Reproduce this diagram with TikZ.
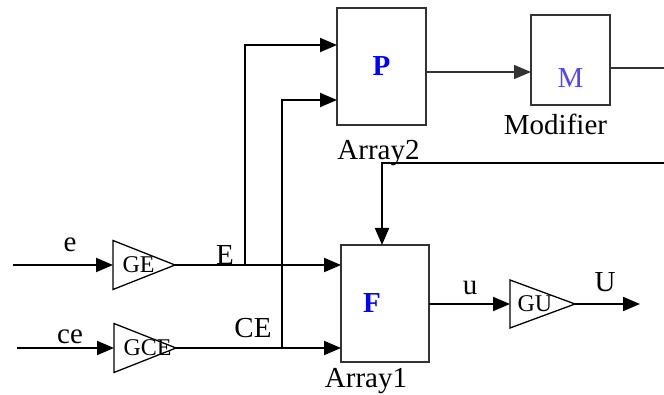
\documentclass[tikz,border=0pt]{standalone}
\usepackage{fontspec}
\setmainfont{Liberation Serif}
\usepackage{tikz}
\usetikzlibrary{arrows.meta, shapes.geometric}
\definecolor{arrblue}{RGB}{0, 0, 255}
\definecolor{modblue}{RGB}{85, 70, 245}
\definecolor{boxgray}{RGB}{51, 51, 51}

\begin{document}
\begin{tikzpicture}[x=1pt, y=-1pt,
    every node/.style={font=\fontsize{29}{33}\selectfont},
    block/.style={draw=boxgray, line width=1.4pt, inner sep=0pt, outer sep=0pt},
    gain/.style={isosceles triangle, isosceles triangle stretches, shape border rotate=0, draw, line width=1.3pt, inner sep=0pt, outer sep=0pt, minimum height=62pt, minimum width=49pt, anchor=west},
    gaintext/.style={font=\fontsize{24}{28}\selectfont, anchor=west, xshift=6pt},
    sig/.style={line width=1.9pt, -{Triangle[length=17pt, width=14pt]}},
    wire/.style={line width=1.5pt, draw=boxgray}
]
\useasboundingbox (0,0) rectangle (664,395);

\node[block, minimum width=89pt, minimum height=117pt, font=\fontsize{29}{33}\selectfont\bfseries, text=arrblue, label={[xshift=-3pt, yshift=-12pt]below:Array2}] (p) at (381.5,66.5) {P};
\node[block, minimum width=79pt, minimum height=90pt, label={[text=modblue, yshift=-18pt]center:M}, label={[xshift=-15pt, yshift=-6pt]below:Modifier}] (m) at (570.5,60) {};
\node[block, minimum width=88pt, minimum height=117pt, label={[text=arrblue, font=\fontsize{29}{33}\selectfont\bfseries, xshift=-13pt]center:F}, label={[xshift=-19pt, yshift=-3pt]below:Array1}] (f) at (385,303.5) {};

\node[gain, label={[gaintext]west:GE}] (ge) at (113,265) {};
\node[gain, label={[gaintext]west:GCE}] (gce) at (114,348) {};
\node[gain, minimum height=65pt, minimum width=48pt, label={[gaintext, xshift=-2pt]west:GU}] (gu) at (510,304) {};

\coordinate (ein) at (13,265);
\coordinate (cein) at (17,348);
\coordinate (je) at (245,265);
\coordinate (jce) at (282,348);
\coordinate (mout) at (664,68);
\coordinate (fb) at (664,163);
\coordinate (uout) at (640,304);

\draw[sig] (ein) -- (ge.west);
\draw[sig] (cein) -- (gce.west);
\draw[sig] (ge.east) -- (ge.east -| f.west);
\draw[sig] (gce.east) -- (gce.east -| f.west);
\draw[sig] (je) |- ([yshift=21.5pt]p.west);
\draw[sig] (jce) |- ([yshift=-33.5pt]p.west);
\draw[sig, wire] ([yshift=-5.5pt]p.east) -- ([yshift=-5.5pt]p.east -| m.west);
\draw[wire] (m.east |- mout) -- (mout);
\draw[sig] (fb) -| ([xshift=-3pt]f.north);
\draw[sig] (gu.west -| f.east) -- (gu.west);
\draw[sig] (gu.east) -- (uout);

\node (el) at (70,245) {e};
\node (cel) at (70,337) {ce};
\node (El) at (225,255) {E};
\node (CEl) at (253,328) {CE};
\node (ul) at (470,288) {u};
\node (Ul) at (605,282) {U};
\end{tikzpicture}
\end{document}
